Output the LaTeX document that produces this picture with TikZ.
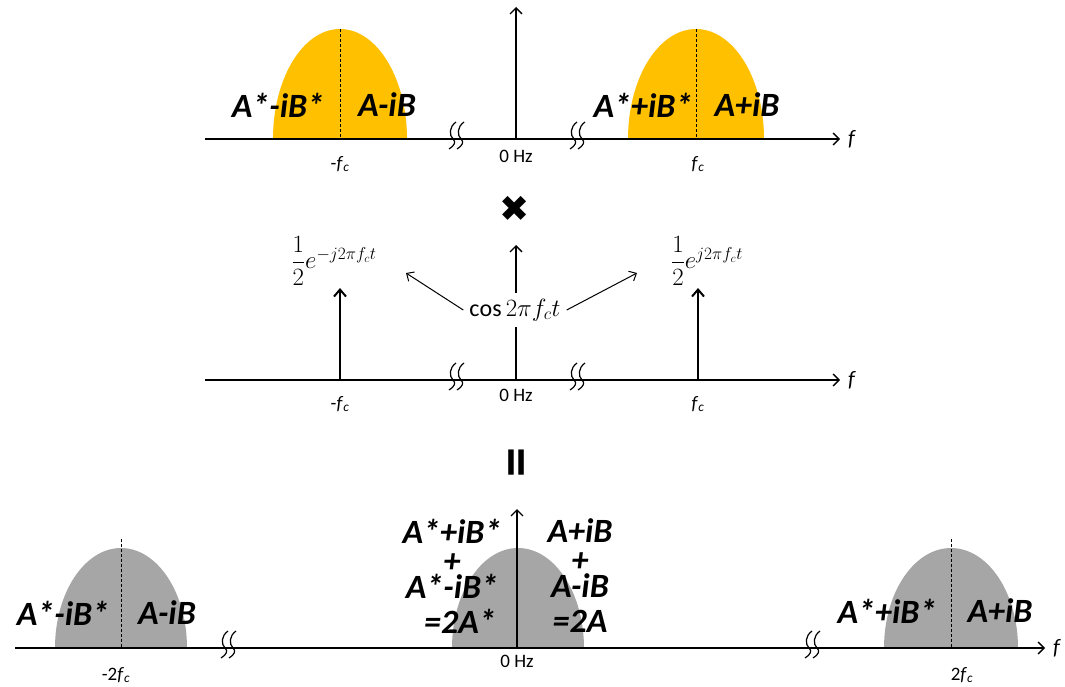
\documentclass[tikz,border=0pt]{standalone}
\usepackage{amsmath}
\usepackage{fontspec}
\setmainfont{Carlito}
\newfontfamily\dingfont{DejaVu Sans}
\usetikzlibrary{arrows.meta,positioning}
\definecolor{bandyellow}{HTML}{FFC000}
\definecolor{bandgray}{HTML}{A6A6A6}

\begin{document}
\begin{tikzpicture}[
    x=1pt, y=-1pt,
    axis/.style={line width=1.3pt, -{Straight Barb[length=6pt,width=12pt]}},
    spike/.style={line width=2pt, -{Straight Barb[length=7pt,width=12pt]}},
    pointer/.style={line width=1pt, -{Straight Barb[length=6pt,width=11pt]}},
    centre/.style={densely dashed, line width=0.6pt},
    sig/.style={font=\fontsize{34}{36}\selectfont\bfseries\itshape, inner sep=0pt},
    stack/.style={sig, align=center, font=\fontsize{34}{26}\selectfont\bfseries\itshape},
    freq/.style={font=\fontsize{19}{21}\selectfont, inner sep=0pt},
    axlabel/.style={font=\fontsize{22}{24}\selectfont\itshape, inner sep=0pt},
    phasor/.style={font=\fontsize{25}{27}\selectfont, inner sep=0pt},
    brk/.pic={
        \draw[line width=1.2pt] (-1,-17) .. controls (-8,-12) and (-8,-4) .. (-4,0)
                                .. controls (-1,3) and (-2,6) .. (-8,10);
        \draw[line width=1.2pt] (7,-17) .. controls (0,-12) and (0,-4) .. (4,0)
                                .. controls (7,3) and (6,6) .. (0,10);
    }
]
\useasboundingbox (0,0) rectangle (1065,686);

% top: bands around -fc and fc
\fill[bandyellow] (273,139) arc[start angle=180, end angle=0, x radius=67pt, y radius=110pt] -- cycle;
\fill[bandyellow] (628,139) arc[start angle=180, end angle=0, x radius=68pt, y radius=110pt] -- cycle;
\draw[centre] (340,29) -- (340,139);
\draw[centre] (696,29) -- (696,139);

\coordinate (ta) at (205,139);
\coordinate (tb) at (840,139);
\coordinate (tz) at (516,139);
\coordinate (tt) at (516,7);
\draw[axis] (ta) -- (tb);
\draw[axis] (tz) -- (tt);
\pic at (457,139) {brk};
\pic at (578,139) {brk};
\node[axlabel, right=8pt of tb] (tf) {f};

\node[sig] (tl1) at (278,105) {A*-iB*};
\node[sig] (tl2) at (387,105) {A-iB};
\node[sig] (tr1) at (643,105) {A*+iB*};
\node[sig] (tr2) at (747,105) {A+iB};

\node[freq] (tfl) at (340,164) {-\textit{f}\textsubscript{\textit{c}}};
\node[freq] (tf0) at (516,156) {0 Hz};
\node[freq] (tfr) at (698,164) {\textit{f}\textsubscript{\textit{c}}};

\node[font=\dingfont\fontsize{36}{38}\selectfont, inner sep=0pt] (times) at (515,209) {✖};

% middle: the carrier
\coordinate (ma) at (205,380);
\coordinate (mb) at (840,380);
\coordinate (mz) at (516,380);
\coordinate (mt) at (516,245);
\draw[axis] (ma) -- (mb);
\draw[axis] (mz) -- (mt);
\pic at (457,380) {brk};
\pic at (578,380) {brk};
\node[axlabel, right=8pt of mb] (mf) {f};

\coordinate (sl) at (340,380);
\coordinate (slt) at (340,288);
\coordinate (sr) at (698,380);
\coordinate (srt) at (698,288);
\draw[spike] (sl) -- (slt);
\draw[spike] (sr) -- (srt);

\node[phasor] (lexp) at (334,261) {$\dfrac{1}{2}e^{-j2\pi f_c t}$};
\node[phasor] (rexp) at (707,261) {$\dfrac{1}{2}e^{j2\pi f_c t}$};
\node[font=\fontsize{24}{26}\selectfont, fill=white, inner sep=6pt] (cosl) at (515,310) {$\cos 2\pi f_c t$};
\coordinate (la) at (406,273);
\coordinate (ra) at (637,273);
\draw[pointer] (cosl.west) -- (la);
\draw[pointer] (cosl.east) -- (ra);

\node[freq] (mfl) at (340,404) {-\textit{f}\textsubscript{\textit{c}}};
\node[freq] (mf0) at (516,395) {0 Hz};
\node[freq] (mfr) at (698,404) {\textit{f}\textsubscript{\textit{c}}};

\node[font=\fontsize{60}{62}\selectfont\bfseries, rotate=90, inner sep=0pt] (equal) at (522,463) {=};

% bottom: result of the product
\fill[bandgray] (55,648) arc[start angle=180, end angle=0, x radius=66pt, y radius=100pt] -- cycle;
\fill[bandgray] (452,648) arc[start angle=180, end angle=0, x radius=66pt, y radius=100pt] -- cycle;
\fill[bandgray] (884,648) arc[start angle=180, end angle=0, x radius=67pt, y radius=100pt] -- cycle;
\draw[centre] (121,539) -- (121,648);
\draw[centre] (951,539) -- (951,648);

\coordinate (ba) at (15,648);
\coordinate (bb) at (1045,648);
\coordinate (bz) at (517,648);
\coordinate (bt) at (517,509);
\draw[axis] (ba) -- (bb);
\draw[axis] (bz) -- (bt);
\pic at (229,648) {brk};
\pic at (813,648) {brk};
\node[axlabel, right=8pt of bb] (bf) {f};

\node[sig] (bl1) at (63,613) {A*-iB*};
\node[sig] (bl2) at (167,613) {A-iB};
\node[sig] (br1) at (887,611) {A*+iB*};
\node[sig] (br2) at (1000,611) {A+iB};

% stacked sums at 0 Hz
\node[stack] (csum) at (452,576) {A*+iB*\\[3pt] +\hspace*{64pt}\\ A*-iB*\\[9pt] \hspace*{16pt}=2A*};
\node[stack] (rsum) at (580,576) {A+iB\\[3pt] +\\ A-iB\\[9pt] =2A};

\node[freq] (bfl) at (116,675) {-2\textit{f}\textsubscript{\textit{c}}};
\node[freq] (bf0) at (517,661) {0 Hz};
\node[freq] (bfr) at (962,675) {2\textit{f}\textsubscript{\textit{c}}};

\end{tikzpicture}
\end{document}
